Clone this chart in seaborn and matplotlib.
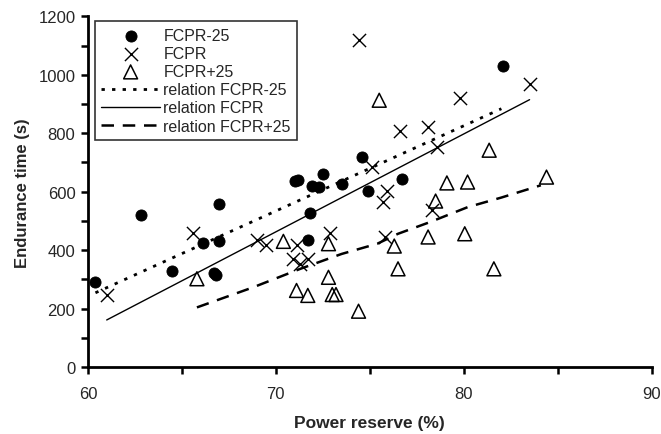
import numpy as np
import pandas as pd
import seaborn as sns
from matplotlib import pyplot as plt

# FCPR-25 (filled circles)
fcpr_m25_x = [60.4, 62.8, 64.5, 66.1, 66.7, 66.8, 67.0, 67.0, 71.0, 71.2,
              71.7, 71.8, 71.9, 72.3, 72.5, 73.5, 74.6, 74.9, 76.7, 82.1]
fcpr_m25_y = [292, 521, 328, 425, 321, 315, 430, 559, 637, 639,
              435, 527, 618, 616, 659, 627, 719, 604, 644, 1031]

# FCPR (crosses)
fcpr_x = [61.0, 65.6, 69.0, 69.5, 70.9, 71.1, 71.3, 71.7, 72.9, 74.4,
          75.1, 75.7, 75.8, 75.9, 76.6, 78.1, 78.3, 78.6, 79.8, 83.5]
fcpr_y = [247, 459, 433, 416, 370, 416, 353, 370, 459, 1119,
          685, 565, 445, 604, 807, 822, 536, 753, 922, 968]

# FCPR+25 (open triangles)
fcpr_p25_x = [65.8, 70.4, 71.1, 71.7, 72.8, 72.8, 73.0, 73.2, 74.4, 75.5,
              76.3, 76.5, 78.1, 78.5, 79.1, 80.05, 80.2, 81.35, 81.6, 84.4]
fcpr_p25_y = [302, 430, 262, 245, 422, 307, 248, 248, 191, 913,
              414, 336, 445, 568, 630, 456, 633, 742, 336, 650]

# relation lines
rel_m25_x = [60.4, 82.0]
rel_m25_y = [254, 884]
rel_x = [61.0, 83.5]
rel_y = [161, 915]
rel_p25_x = [65.8, 68.8, 71.3, 73.5, 75.4, 76.5, 78.2, 80.2, 82.0, 84.1]
rel_p25_y = [204, 273, 336, 387, 422, 456, 496, 547, 580, 622]

sns.set_style("ticks")
plt.rcParams["font.family"] = ["Liberation Sans", "DejaVu Sans"]

fig = plt.figure(figsize=(6.61, 4.35), dpi=100)
ax = fig.add_axes([0.133, 0.154, 0.853, 0.806])

sns.lineplot(x=rel_m25_x, y=rel_m25_y, ax=ax, color="black", linewidth=2,
             linestyle=(0, (1.2, 2.6)), label="relation FCPR-25")
sns.lineplot(x=rel_x, y=rel_y, ax=ax, color="black", linewidth=1,
             label="relation FCPR")
sns.lineplot(x=rel_p25_x, y=rel_p25_y, ax=ax, color="black", linewidth=1.8,
             linestyle=(0, (5, 3.5)), label="relation FCPR+25")

sns.scatterplot(x=fcpr_m25_x, y=fcpr_m25_y, ax=ax, marker="o", color="black",
                s=64, edgecolor="black", label="FCPR-25")
sns.scatterplot(x=fcpr_x, y=fcpr_y, ax=ax, marker="x", color="black",
                s=90, linewidth=1, label="FCPR")
sns.scatterplot(x=fcpr_p25_x, y=fcpr_p25_y, ax=ax, marker="^",
                facecolor="none", edgecolor="black", s=100, linewidth=1.1,
                label="FCPR+25")

ax.set_xlim(60, 90)
ax.set_ylim(0, 1200)
ax.set_xticks([60, 70, 80, 90])
ax.set_xticks([65, 75, 85], minor=True)
ax.set_yticks(np.arange(0, 1201, 200))
ax.set_yticks(np.arange(100, 1200, 200), minor=True)
ax.tick_params(which="both", direction="out", width=1.8, length=5,
               labelsize=12, color="black")
ax.tick_params(axis="x", pad=9)
ax.tick_params(axis="y", pad=4)
sns.despine(ax=ax)
for side in ["left", "bottom"]:
    ax.spines[side].set_linewidth(2)
    ax.spines[side].set_color("black")

ax.set_xlabel("Power reserve (%)", fontsize=12.5, fontweight="bold",
              labelpad=10)
ax.set_ylabel("Endurance time (s)", fontsize=12, fontweight="bold",
              labelpad=6)

handles, labels = ax.get_legend_handles_labels()
order = ["FCPR-25", "FCPR", "FCPR+25", "relation FCPR-25", "relation FCPR",
         "relation FCPR+25"]
lookup = dict(zip(labels, handles))
leg = ax.legend([lookup[k] for k in order], order, loc="upper left",
                bbox_to_anchor=(0.012, 0.986), fontsize=11.5, frameon=True,
                fancybox=False, edgecolor="black", handlelength=3.7,
                handletextpad=0.2, labelspacing=0.2, borderpad=0.4,
                borderaxespad=0)
leg.get_frame().set_linewidth(1.2)

plt.savefig("out.png", dpi=100)
